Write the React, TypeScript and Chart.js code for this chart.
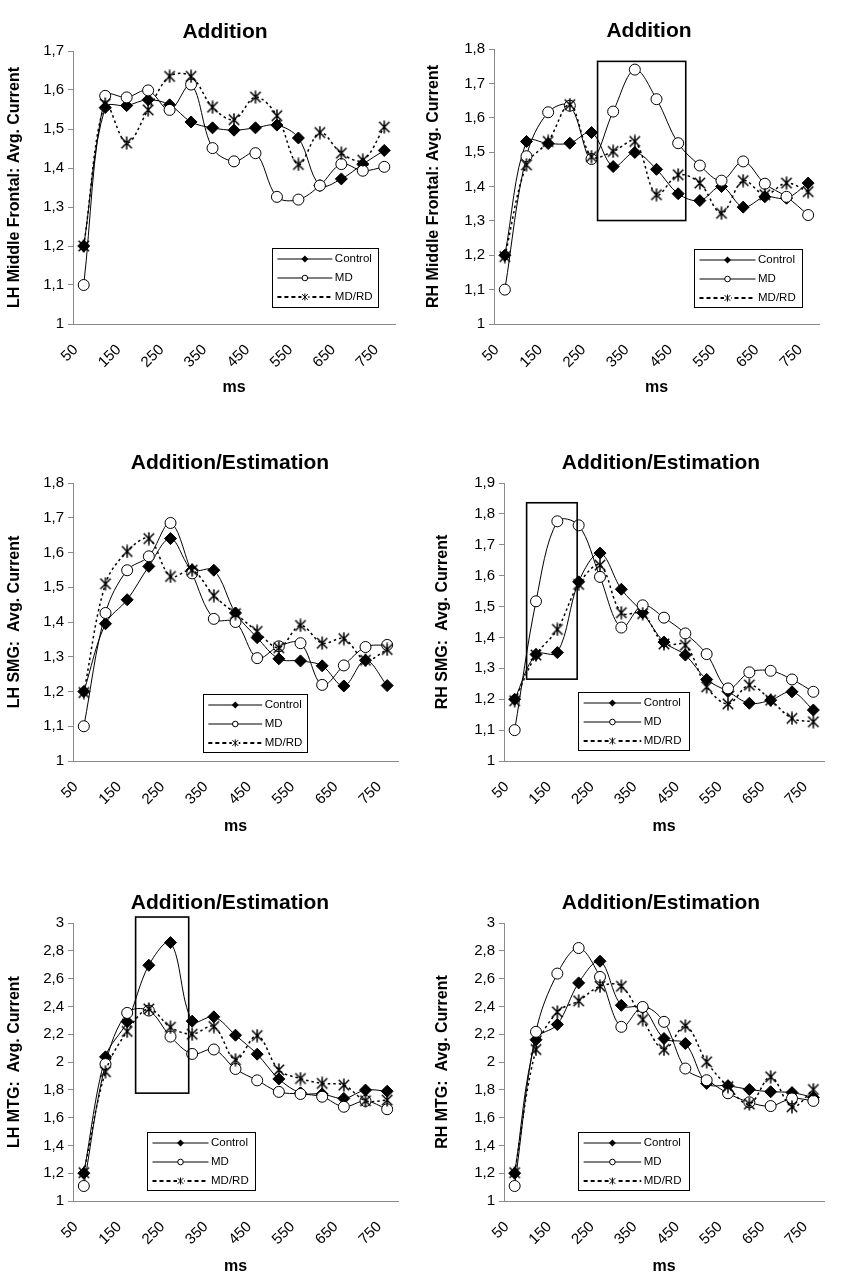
import React, { useEffect, useRef } from 'react';
import { Chart, registerables } from 'chart.js';

Chart.register(...registerables);
Chart.defaults.font.family = '"Liberation Sans", Arial, sans-serif';
Chart.defaults.color = '#000';

// ---------- data ----------
const categories = ['50', '100', '150', '200', '250', '300', '350', '400', '450', '500', '550', '600', '650', '700', '750'];
const seriesNames = ['Control', 'MD', 'MD/RD'];

const lhFrontalControl = [1.2, 1.555, 1.56, 1.575, 1.562, 1.518, 1.503, 1.497, 1.503, 1.51, 1.477, 1.355, 1.372, 1.41, 1.445];
const lhFrontalMD = [1.1, 1.585, 1.581, 1.599, 1.549, 1.614, 1.451, 1.417, 1.438, 1.326, 1.319, 1.355, 1.41, 1.393, 1.403];
const lhFrontalMDRD = [1.2, 1.564, 1.464, 1.549, 1.635, 1.635, 1.556, 1.524, 1.582, 1.534, 1.409, 1.491, 1.438, 1.42, 1.505];

const rhFrontalControl = [1.2, 1.531, 1.525, 1.526, 1.557, 1.458, 1.499, 1.45, 1.379, 1.359, 1.4, 1.34, 1.37, 1.366, 1.41];
const rhFrontalMD = [1.1, 1.488, 1.616, 1.635, 1.48, 1.618, 1.74, 1.654, 1.526, 1.461, 1.417, 1.473, 1.408, 1.37, 1.317];
const rhFrontalMDRD = [1.196, 1.463, 1.531, 1.638, 1.487, 1.502, 1.531, 1.376, 1.434, 1.41, 1.322, 1.417, 1.376, 1.41, 1.385];

const lhSmgControl = [1.2, 1.395, 1.464, 1.56, 1.64, 1.55, 1.549, 1.426, 1.355, 1.294, 1.288, 1.274, 1.216, 1.29, 1.217];
const lhSmgMD = [1.1, 1.426, 1.549, 1.589, 1.685, 1.54, 1.409, 1.4, 1.296, 1.33, 1.339, 1.219, 1.275, 1.328, 1.334];
const lhSmgMDRD = [1.197, 1.51, 1.603, 1.64, 1.531, 1.549, 1.476, 1.424, 1.373, 1.326, 1.39, 1.339, 1.352, 1.29, 1.321];

const rhSmgControl = [1.2, 1.345, 1.351, 1.58, 1.673, 1.556, 1.48, 1.385, 1.343, 1.264, 1.225, 1.187, 1.197, 1.224, 1.165];
const rhSmgMD = [1.1, 1.517, 1.776, 1.763, 1.596, 1.432, 1.504, 1.464, 1.413, 1.346, 1.235, 1.287, 1.292, 1.264, 1.224];
const rhSmgMDRD = [1.195, 1.343, 1.426, 1.572, 1.634, 1.48, 1.477, 1.379, 1.375, 1.24, 1.185, 1.246, 1.197, 1.138, 1.127];

const lhMtgControl = [1.2, 2.037, 2.29, 2.696, 2.859, 2.294, 2.325, 2.193, 2.056, 1.878, 1.778, 1.77, 1.738, 1.798, 1.79];
const lhMtgMD = [1.108, 1.985, 2.353, 2.37, 2.183, 2.058, 2.09, 1.95, 1.868, 1.785, 1.77, 1.75, 1.678, 1.72, 1.66];
const lhMtgMDRD = [1.204, 1.93, 2.22, 2.382, 2.25, 2.2, 2.255, 2.016, 2.19, 1.943, 1.881, 1.846, 1.834, 1.721, 1.726];

const rhMtgControl = [1.2, 2.16, 2.27, 2.569, 2.725, 2.408, 2.39, 2.169, 2.133, 1.846, 1.83, 1.802, 1.786, 1.78, 1.745];
const rhMtgMD = [1.108, 2.217, 2.636, 2.82, 2.612, 2.253, 2.396, 2.289, 1.953, 1.869, 1.775, 1.71, 1.683, 1.738, 1.72];
const rhMtgMDRD = [1.204, 2.09, 2.36, 2.44, 2.545, 2.545, 2.305, 2.09, 2.26, 2.001, 1.822, 1.697, 1.893, 1.678, 1.802];

// ---------- panel layout / annotation config ----------
type Box = { x0: number; x1: number; y0: number; y1: number } | null;
type PanelCfg = {
  canvas: { x: number; y: number; w: number; h: number };
  area: { l: number; r: number; t: number; b: number };
  yTitleCx: number;
  msCy: number;
  titleC: { x: number; y: number };
  title: string;
  yTitle: string;
  yMin: number;
  yMax: number;
  yStep: number;
  control: number[];
  md: number[];
  mdrd: number[];
  legend: { dx: number; dy: number; w: number; h: number };
  box: Box;
};

const panels: PanelCfg[] = [
  {
    canvas: { x: 0, y: 0, w: 426, h: 440 }, area: { l: 73, r: 395, t: 51, b: 324 },
    yTitleCx: 15, msCy: 388, titleC: { x: 225, y: 32 }, title: 'Addition',
    yTitle: 'LH Middle Frontal: Avg. Current', yMin: 1, yMax: 1.7, yStep: 0.1,
    control: lhFrontalControl, md: lhFrontalMD, mdrd: lhFrontalMDRD,
    legend: { dx: 199, dy: 197, w: 106, h: 59 }, box: null,
  },
  {
    canvas: { x: 416, y: 0, w: 436, h: 440 }, area: { l: 494, r: 819, t: 49, b: 324 },
    yTitleCx: 434, msCy: 388, titleC: { x: 649, y: 31 }, title: 'Addition',
    yTitle: 'RH Middle Frontal: Avg. Current', yMin: 1, yMax: 1.8, yStep: 0.1,
    control: rhFrontalControl, md: rhFrontalMD, mdrd: rhFrontalMDRD,
    legend: { dx: 200, dy: 200, w: 108, h: 58 }, box: { x0: 4.28, x1: 8.35, y0: 1.301, y1: 1.764 },
  },
  {
    canvas: { x: 0, y: 440, w: 426, h: 440 }, area: { l: 73, r: 398, t: 483, b: 761 },
    yTitleCx: 15, msCy: 827, titleC: { x: 230, y: 463 }, title: 'Addition/Estimation',
    yTitle: 'LH SMG:  Avg. Current', yMin: 1, yMax: 1.8, yStep: 0.1,
    control: lhSmgControl, md: lhSmgMD, mdrd: lhSmgMDRD,
    legend: { dx: 130, dy: 211, w: 104, h: 58 }, box: null,
  },
  {
    canvas: { x: 416, y: 440, w: 436, h: 440 }, area: { l: 504, r: 824, t: 483, b: 761 },
    yTitleCx: 443, msCy: 827, titleC: { x: 661, y: 463 }, title: 'Addition/Estimation',
    yTitle: 'RH SMG:  Avg. Current', yMin: 1, yMax: 1.9, yStep: 0.1,
    control: rhSmgControl, md: rhSmgMD, mdrd: rhSmgMDRD,
    legend: { dx: 74, dy: 209, w: 111, h: 58 }, box: { x0: 0.56, x1: 2.93, y0: 1.265, y1: 1.836 },
  },
  {
    canvas: { x: 0, y: 880, w: 426, h: 401 }, area: { l: 73, r: 398, t: 923, b: 1201 },
    yTitleCx: 15, msCy: 1267, titleC: { x: 230, y: 903 }, title: 'Addition/Estimation',
    yTitle: 'LH MTG:  Avg. Current', yMin: 1, yMax: 3, yStep: 0.2,
    control: lhMtgControl, md: lhMtgMD, mdrd: lhMtgMDRD,
    legend: { dx: 74, dy: 209, w: 108, h: 58 }, box: { x0: 2.39, x1: 4.84, y0: 1.776, y1: 3.043 },
  },
  {
    canvas: { x: 416, y: 880, w: 436, h: 401 }, area: { l: 504, r: 824, t: 923, b: 1201 },
    yTitleCx: 443, msCy: 1267, titleC: { x: 661, y: 903 }, title: 'Addition/Estimation',
    yTitle: 'RH MTG:  Avg. Current', yMin: 1, yMax: 3, yStep: 0.2,
    control: rhMtgControl, md: rhMtgMD, mdrd: rhMtgMDRD,
    legend: { dx: 74, dy: 209, w: 111, h: 58 }, box: null,
  },
];

const FONT = '"Liberation Sans", Arial, sans-serif';
const AXIS_GRAY = '#8a8a8a';

function makeAsterisk(size: number, lw: number): HTMLCanvasElement {
  const c = document.createElement('canvas');
  c.width = size;
  c.height = size;
  const g = c.getContext('2d')!;
  g.strokeStyle = '#000';
  g.lineWidth = lw;
  const m = size / 2;
  const r = size / 2 - 0.5;
  const d = r * 0.8;
  g.beginPath();
  g.moveTo(m - d, m - d); g.lineTo(m + d, m + d);
  g.moveTo(m + d, m - d); g.lineTo(m - d, m + d);
  g.moveTo(m, m - r); g.lineTo(m, m + r);
  g.stroke();
  return c;
}

function drawAsteriskAt(ctx: CanvasRenderingContext2D, x: number, y: number, r: number) {
  const d = r * 0.8;
  ctx.beginPath();
  ctx.moveTo(x - d, y - d); ctx.lineTo(x + d, y + d);
  ctx.moveTo(x + d, y - d); ctx.lineTo(x - d, y + d);
  ctx.moveTo(x, y - r); ctx.lineTo(x, y + r);
  ctx.stroke();
}

function fmtTick(v: number | string) {
  const n = Math.round(Number(v) * 10) / 10;
  return String(n).replace('.', ',');
}

function Panel({ cfg }: { cfg: PanelCfg }) {
  const ref = useRef<HTMLCanvasElement>(null);

  useEffect(() => {
    const { canvas, area } = cfg;
    const yTitleHalf = (16 * 1.2) / 2;
    const padLeft = cfg.yTitleCx - canvas.x - yTitleHalf;
    const yWidth = area.l - canvas.x - padLeft;
    const padRight = canvas.x + canvas.w - area.r;
    const padTop = area.t - canvas.y;
    const padBottom = canvas.h - (cfg.msCy - canvas.y) - yTitleHalf;
    const xHeight = canvas.h - padBottom - (area.b - canvas.y);

    const asterisk = makeAsterisk(14, 1.5);

    const decor = {
      id: 'panelDecor',
      afterDraw(chart: any) {
        const ctx: CanvasRenderingContext2D = chart.ctx;
        const ca = chart.chartArea;
        const xs = chart.scales.x;
        const ys = chart.scales.y;
        ctx.save();
        // highlight box
        if (cfg.box) {
          const x0 = xs.getPixelForValue(cfg.box.x0);
          const x1 = xs.getPixelForValue(cfg.box.x1);
          const y0 = ys.getPixelForValue(cfg.box.y0);
          const y1 = ys.getPixelForValue(cfg.box.y1);
          ctx.strokeStyle = '#000';
          ctx.lineWidth = 1.6;
          ctx.setLineDash([]);
          ctx.strokeRect(x0, y1, x1 - x0, y0 - y1);
        }
        // legend
        const L = cfg.legend;
        const lx = Math.round(ca.left + L.dx) + 0.5;
        const ly = Math.round(ca.top + L.dy) + 0.5;
        ctx.fillStyle = '#fff';
        ctx.fillRect(lx, ly, L.w, L.h);
        ctx.strokeStyle = '#000';
        ctx.lineWidth = 1;
        ctx.strokeRect(lx, ly, L.w, L.h);
        const sx = L.w / 108;
        const rowsY = [ly + 10.5, ly + 29.5, ly + 48.5];
        const lineX0 = lx + 5 * sx;
        const lineX1 = lx + 61 * sx;
        const markX = lx + 33 * sx;
        const textX = lx + 63.5 * sx;
        ctx.font = `11.5px ${FONT}`;
        ctx.textAlign = 'left';
        ctx.textBaseline = 'middle';
        rowsY.forEach((ry, i) => {
          ctx.strokeStyle = '#000';
          if (i === 2) {
            ctx.lineWidth = 2;
            ctx.setLineDash([4, 3]);
          } else {
            ctx.lineWidth = 1;
            ctx.setLineDash([]);
          }
          ctx.beginPath();
          ctx.moveTo(lineX0, ry);
          ctx.lineTo(lineX1, ry);
          ctx.stroke();
          ctx.setLineDash([]);
          ctx.lineWidth = 1;
          if (i === 0) {
            ctx.fillStyle = '#000';
            ctx.beginPath();
            ctx.moveTo(markX, ry - 3.5);
            ctx.lineTo(markX + 3.5, ry);
            ctx.lineTo(markX, ry + 3.5);
            ctx.lineTo(markX - 3.5, ry);
            ctx.closePath();
            ctx.fill();
          } else if (i === 1) {
            ctx.fillStyle = '#fff';
            ctx.beginPath();
            ctx.arc(markX, ry, 2.8, 0, Math.PI * 2);
            ctx.fill();
            ctx.stroke();
          } else {
            ctx.fillStyle = '#fff';
            ctx.fillRect(markX - 3.5, ry - 3.5, 7, 7);
            drawAsteriskAt(ctx, markX, ry, 3.5);
          }
          ctx.fillStyle = '#000';
          ctx.fillText(seriesNames[i], textX, ry);
        });
        // panel title
        ctx.font = `bold 21px ${FONT}`;
        ctx.textAlign = 'center';
        ctx.textBaseline = 'middle';
        ctx.fillStyle = '#000';
        ctx.fillText(cfg.title, cfg.titleC.x - canvas.x, cfg.titleC.y - canvas.y);
        ctx.restore();
      },
    };

    const chart = new Chart(ref.current!, {
      type: 'line',
      data: {
        labels: categories,
        datasets: [
          {
            label: seriesNames[0],
            data: cfg.control,
            borderColor: '#000',
            borderWidth: 1,
            pointStyle: 'rectRot',
            pointRadius: 6,
            pointBackgroundColor: '#000',
            pointBorderColor: '#000',
            pointBorderWidth: 1,
            tension: 0.35,
            order: 2,
          },
          {
            label: seriesNames[1],
            data: cfg.md,
            borderColor: '#000',
            borderWidth: 1,
            pointStyle: 'circle',
            pointRadius: 5.5,
            pointBackgroundColor: '#fff',
            pointBorderColor: '#000',
            pointBorderWidth: 1,
            tension: 0.35,
            order: 1,
          },
          {
            label: seriesNames[2],
            data: cfg.mdrd,
            borderColor: '#000',
            borderWidth: 1.5,
            borderDash: [2.5, 3],
            pointStyle: asterisk as any,
            pointRadius: 7,
            tension: 0.35,
            order: 0,
          },
        ],
      },
      options: {
        responsive: false,
        animation: false,
        events: [],
        layout: { padding: { left: padLeft, right: padRight, top: padTop, bottom: padBottom } },
        plugins: {
          legend: { display: false },
          tooltip: { enabled: false },
          title: { display: false },
        },
        scales: {
          x: {
            type: 'category',
            offset: true,
            grid: { display: false },
            border: { display: true, color: AXIS_GRAY, width: 1 },
            ticks: {
              autoSkip: false,
              minRotation: 45,
              maxRotation: 45,
              padding: 9,
              labelOffset: -8,
              font: { size: 15 },
              color: '#000',
              callback: (_v: any, i: number) => (i % 2 === 0 ? categories[i] : ''),
            },
            title: { display: true, text: 'ms', font: { size: 16, weight: 'bold' }, color: '#000', padding: 0 },
            afterFit: (s: any) => { s.height = xHeight; },
          },
          y: {
            min: cfg.yMin,
            max: cfg.yMax,
            grid: { display: true, drawOnChartArea: false, drawTicks: true, tickLength: 5, color: AXIS_GRAY },
            border: { display: true, color: AXIS_GRAY, width: 1 },
            ticks: { stepSize: cfg.yStep, padding: 4, font: { size: 15 }, color: '#000', callback: (v: any) => fmtTick(v) },
            title: { display: true, text: cfg.yTitle, font: { size: 16, weight: 'bold' }, color: '#000', padding: 0 },
            afterFit: (s: any) => { s.width = yWidth; },
          },
        },
      } as any,
      plugins: [decor],
    });
    return () => chart.destroy();
  }, [cfg]);

  return (
    <canvas
      ref={ref}
      width={cfg.canvas.w}
      height={cfg.canvas.h}
      style={{ position: 'absolute', left: cfg.canvas.x, top: cfg.canvas.y, width: cfg.canvas.w, height: cfg.canvas.h }}
    />
  );
}

export default function App() {
  return (
    <div style={{ position: 'absolute', left: 0, top: 0, width: 852, height: 1281, background: '#fff', overflow: 'hidden' }}>
      {panels.map((p, i) => (
        <Panel key={i} cfg={p} />
      ))}
    </div>
  );
}
